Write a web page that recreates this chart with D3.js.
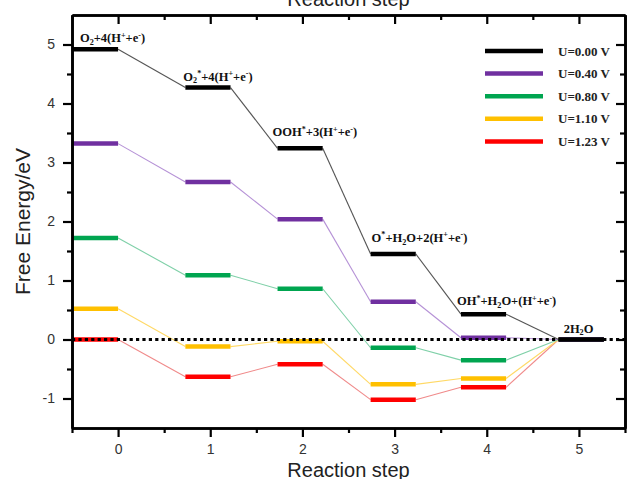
<!DOCTYPE html>
<html>
<head>
<meta charset="utf-8">
<script src="https://cdn.jsdelivr.net/npm/d3@7"></script>
<style>
  html, body { margin: 0; padding: 0; background: #fff; }
  svg { display: block; }
</style>
</head>
<body>
<svg id="chart" width="628" height="479"></svg>
<script>
// Reaction steps of the oxygen evolution pathway
const steps = [0, 1, 2, 3, 4, 5];
// Left end of each energy level (in reaction-step units) and level width
const stepStart = [-0.49, 0.73, 1.73, 2.74, 3.72, 4.78];
const stepWidth = 0.49;

// Free energies (eV) per applied potential
const potentials = ["U=0.00 V", "U=0.40 V", "U=0.80 V", "U=1.10 V", "U=1.23 V"];
const energyU000 = [4.92, 4.27, 3.24, 1.45, 0.43, 0];
const energyU040 = [3.32, 2.67, 2.04, 0.64, 0.03, 0];
const energyU080 = [1.72, 1.09, 0.86, -0.14, -0.35, 0];
const energyU110 = [0.52, -0.12, -0.03, -0.76, -0.66, 0];
const energyU123 = [0.00, -0.63, -0.42, -1.02, -0.81, 0];

// Intermediate labels: [text, kind] with kind n = normal, sub, sup
const stepLabels = [
  [["O", "n"], ["2", "sub"], ["+4(H", "n"], ["+", "sup"], ["+e", "n"], ["-", "sup"], [")", "n"]],
  [["O", "n"], ["2", "sub"], ["*", "sup"], ["+4(H", "n"], ["+", "sup"], ["+e", "n"], ["-", "sup"], [")", "n"]],
  [["OOH", "n"], ["*", "sup"], ["+3(H", "n"], ["+", "sup"], ["+e", "n"], ["-", "sup"], [")", "n"]],
  [["O", "n"], ["*", "sup"], ["+H", "n"], ["2", "sub"], ["O+2(H", "n"], ["+", "sup"], ["+e", "n"], ["-", "sup"], [")", "n"]],
  [["OH", "n"], ["*", "sup"], ["+H", "n"], ["2", "sub"], ["O+(H", "n"], ["+", "sup"], ["+e", "n"], ["-", "sup"], [")", "n"]],
  [["2H", "n"], ["2", "sub"], ["O", "n"]]
];

const xTicks = [0, 1, 2, 3, 4, 5];
const yTicks = [-1, 0, 1, 2, 3, 4, 5];

// ---- layout and style ----
const series = [energyU000, energyU040, energyU080, energyU110, energyU123];
const barColors = ["#000000", "#7030a0", "#00a550", "#ffc000", "#ff0000"];
const linkColors = ["#555555", "#b591d6", "#7fd0a8", "#ffd966", "#f08a8a"];
// pixel offsets of each intermediate label from its level's left end
const labelOffset = [[7, -7], [-2, -7], [-5, -12], [1, -12], [-4, -9], [5, -7]];

const W = 628, H = 479;
const m = { left: 72, right: 3, top: 15, bottom: 51 };
const svg = d3.select("#chart");

const x = d3.scaleLinear().domain([-0.5, 5.5]).range([m.left, W - m.right]);
const y = d3.scaleLinear().domain([-1.5, 5.5]).range([H - m.bottom, m.top]);

const sans = "'Liberation Sans', Arial, sans-serif";
const serif = "'Liberation Serif', 'Times New Roman', serif";
const plainNum = d => String(d);

// ---- connectors and levels (drawn bottom series first so black sits on top) ----
const plot = svg.append("g");
for (let s = series.length - 1; s >= 0; s--) {
  const e = series[s];
  const links = d3.range(steps.length - 1).map(i => ({
    x1: stepStart[i] + stepWidth, y1: e[i], x2: stepStart[i + 1], y2: e[i + 1]
  }));
  plot.append("g").selectAll("line").data(links).join("line")
    .attr("x1", d => x(d.x1)).attr("y1", d => y(d.y1))
    .attr("x2", d => x(d.x2)).attr("y2", d => y(d.y2))
    .attr("stroke", linkColors[s]).attr("stroke-width", 1.1);
  plot.append("g").selectAll("line").data(steps).join("line")
    .attr("x1", i => x(stepStart[i])).attr("x2", i => x(stepStart[i] + stepWidth))
    .attr("y1", i => y(e[i])).attr("y2", i => y(e[i]))
    .attr("stroke", barColors[s]).attr("stroke-width", 4.5);
}

// zero reference line
plot.append("line")
  .attr("x1", x(-0.5)).attr("x2", x(5.5))
  .attr("y1", y(0)).attr("y2", y(0))
  .attr("stroke", "#000").attr("stroke-width", 3.2)
  .attr("stroke-dasharray", "3.2,3.2");

// ---- intermediate labels ----
function richText(g, segs, size) {
  const t = g.append("text")
    .attr("font-family", serif).attr("font-weight", "bold")
    .attr("font-size", size).attr("fill", "#111");
  let shift = 0;
  segs.forEach(([txt, kind]) => {
    const target = kind === "sub" ? 2.8 : kind === "sup" ? -4.5 : 0;
    t.append("tspan")
      .attr("dy", target - shift)
      .attr("font-size", kind === "n" ? size : size * 0.65)
      .text(txt);
    shift = target;
  });
  return t;
}
steps.forEach(i => {
  const g = svg.append("g")
    .attr("transform", `translate(${x(stepStart[i]) + labelOffset[i][0]},${y(energyU000[i]) + labelOffset[i][1]})`);
  richText(g, stepLabels[i], 12.5);
});

// ---- axes ----
const axisStyle = g => {
  g.select(".domain").attr("stroke", "#000").attr("stroke-width", 2.6);
  g.selectAll(".tick line").attr("stroke", "#000").attr("stroke-width", 2.2);
  g.selectAll("text").attr("font-family", sans).attr("font-size", 14).attr("fill", "#333");
};
const xMinor = d3.range(-0.5, 5.6, 1);
const yMinor = d3.range(-0.5, 5.0, 1);

svg.append("g").attr("transform", `translate(0,${H - m.bottom})`)
  .call(d3.axisBottom(x).tickValues(xMinor).tickSize(5).tickSizeOuter(0).tickFormat(""))
  .call(axisStyle);
svg.append("g").attr("transform", `translate(0,${H - m.bottom})`)
  .call(d3.axisBottom(x).tickValues(xTicks).tickSize(9).tickPadding(7).tickSizeOuter(0).tickFormat(plainNum))
  .call(axisStyle);
svg.append("g").attr("transform", `translate(0,${m.top})`)
  .call(d3.axisTop(x).tickValues(xMinor).tickSize(-5).tickSizeOuter(0).tickFormat(""))
  .call(axisStyle);
svg.append("g").attr("transform", `translate(0,${m.top})`)
  .call(d3.axisTop(x).tickValues(xTicks).tickSize(-9).tickSizeOuter(0).tickFormat(""))
  .call(axisStyle);

svg.append("g").attr("transform", `translate(${m.left},0)`)
  .call(d3.axisLeft(y).tickValues(yMinor).tickSize(5).tickSizeOuter(0).tickFormat(""))
  .call(axisStyle);
svg.append("g").attr("transform", `translate(${m.left},0)`)
  .call(d3.axisLeft(y).tickValues(yTicks).tickSize(9).tickPadding(8).tickSizeOuter(0).tickFormat(plainNum))
  .call(axisStyle);
svg.append("g").attr("transform", `translate(${W - m.right},0)`)
  .call(d3.axisRight(y).tickValues(yMinor).tickSize(-5).tickSizeOuter(0).tickFormat(""))
  .call(axisStyle);
svg.append("g").attr("transform", `translate(${W - m.right},0)`)
  .call(d3.axisRight(y).tickValues(yTicks).tickSize(-9).tickSizeOuter(0).tickFormat(""))
  .call(axisStyle);

// ---- axis titles ----
svg.append("text")
  .attr("x", (m.left + W - m.right) / 2).attr("y", 6)
  .attr("text-anchor", "middle").attr("font-family", sans).attr("font-size", 20)
  .attr("fill", "#222").text("Reaction step");
svg.append("text")
  .attr("x", (m.left + W - m.right) / 2).attr("y", 477)
  .attr("text-anchor", "middle").attr("font-family", sans).attr("font-size", 20)
  .attr("fill", "#222").text("Reaction step");
svg.append("text")
  .attr("transform", `translate(30,${(m.top + H - m.bottom) / 2}) rotate(-90)`)
  .attr("text-anchor", "middle").attr("font-family", sans).attr("font-size", 21)
  .attr("fill", "#222").text("Free Energy/eV");

// ---- legend ----
const legend = svg.append("g").attr("transform", "translate(485,51)");
const rows = legend.selectAll("g").data(potentials).join("g")
  .attr("transform", (d, i) => `translate(0,${i * 22.6})`);
rows.append("line").attr("x1", 0).attr("x2", 58).attr("y1", 0).attr("y2", 0)
  .attr("stroke", (d, i) => barColors[i]).attr("stroke-width", 4.5);
rows.append("text").attr("x", 73).attr("y", 4.5)
  .attr("font-family", serif).attr("font-weight", "bold").attr("font-size", 13)
  .attr("fill", "#222").text(d => d);
</script>
</body>
</html>
